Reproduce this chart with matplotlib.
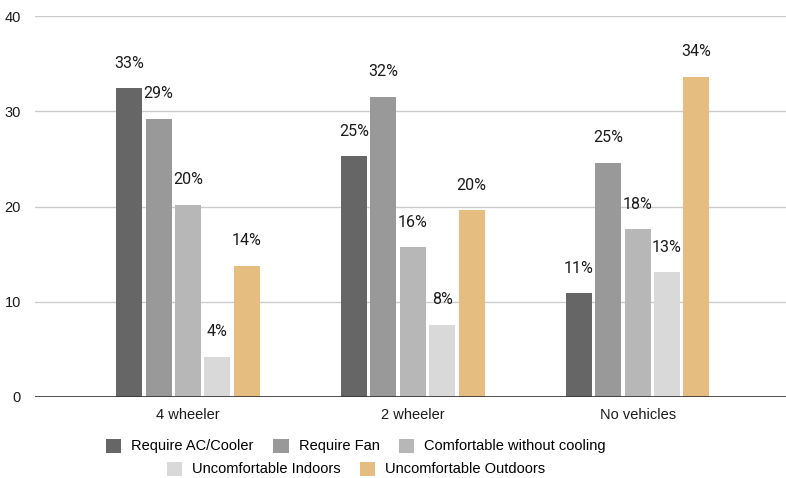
import numpy as np
import matplotlib.pyplot as plt

categories = ["4 wheeler", "2 wheeler", "No vehicles"]
series = ["Require AC/Cooler", "Require Fan", "Comfortable without cooling",
          "Uncomfortable Indoors", "Uncomfortable Outdoors"]
values = [
    [32.4, 25.3, 10.9],   # Require AC/Cooler
    [29.2, 31.5, 24.6],   # Require Fan
    [20.2, 15.7, 17.6],   # Comfortable without cooling
    [4.2, 7.6, 13.1],     # Uncomfortable Indoors
    [13.8, 19.6, 33.6],   # Uncomfortable Outdoors
]
labels = [
    ["33%", "25%", "11%"],
    ["29%", "32%", "25%"],
    ["20%", "16%", "18%"],
    ["4%", "8%", "13%"],
    ["14%", "20%", "34%"],
]
colors = ['#666666', '#999999', '#b7b7b7', '#d9d9d9', '#e6bd80']

fig = plt.figure(figsize=(7.86, 4.78), dpi=100)
ax = fig.add_axes([35 / 786, 81 / 478, 751 / 786, 381 / 478])

for loc in ax.spines:
    ax.spines[loc].set_visible(False)
ax.set_ylim(0, 40)
ax.set_yticks([0, 10, 20, 30, 40])
ax.yaxis.grid(True, color='#cccccc', linewidth=1)
ax.set_axisbelow(True)
ax.axhline(0, color='#333333', linewidth=1.2, zorder=3)
ax.tick_params(axis='both', which='both', length=0)
ax.tick_params(axis='y', pad=10)
ax.tick_params(axis='x', pad=8)

xpos = np.arange(len(categories))
step = 0.1307
width = 0.1156
for i, (name, vals, labs) in enumerate(zip(series, values, labels)):
    offs = (i - 2) * step
    ax.bar(xpos + offs, vals, width, color=colors[i], label=name, zorder=2)
    for x, v, lab in zip(xpos, vals, labs):
        ax.annotate(lab, (x + offs, v), xytext=(0, 25), textcoords='offset pixels',
                    ha='center', va='center', fontsize=11.5, family='Roboto',
                    color='#1a1a1a')

ax.set_xticks(xpos)
ax.set_xticklabels(categories, family='Liberation Sans', fontsize=10.5,
                   color='#1a1a1a')
for t in ax.get_yticklabels():
    t.set_family('Liberation Sans')
    t.set_fontsize(10.5)
    t.set_color('#1a1a1a')
ax.set_xlim(-0.68, 2.66)

# Legend in two centred rows
handles, names = ax.get_legend_handles_labels()
lprops = dict(frameon=False, prop={'family': 'Liberation Sans', 'size': 10.5},
              handlelength=1.05, handleheight=1.1, handletextpad=0.68,
              columnspacing=1.35, borderpad=0, borderaxespad=0)
leg1 = fig.legend(handles[:3], names[:3], ncol=3, loc='center',
                  bbox_to_anchor=(356 / 786, 1 - 446 / 478), **lprops)
leg2 = fig.legend(handles[3:], names[3:], ncol=2, loc='center',
                  bbox_to_anchor=(356 / 786, 1 - 469 / 478), **lprops)

fig.savefig('out.png', dpi=100)
